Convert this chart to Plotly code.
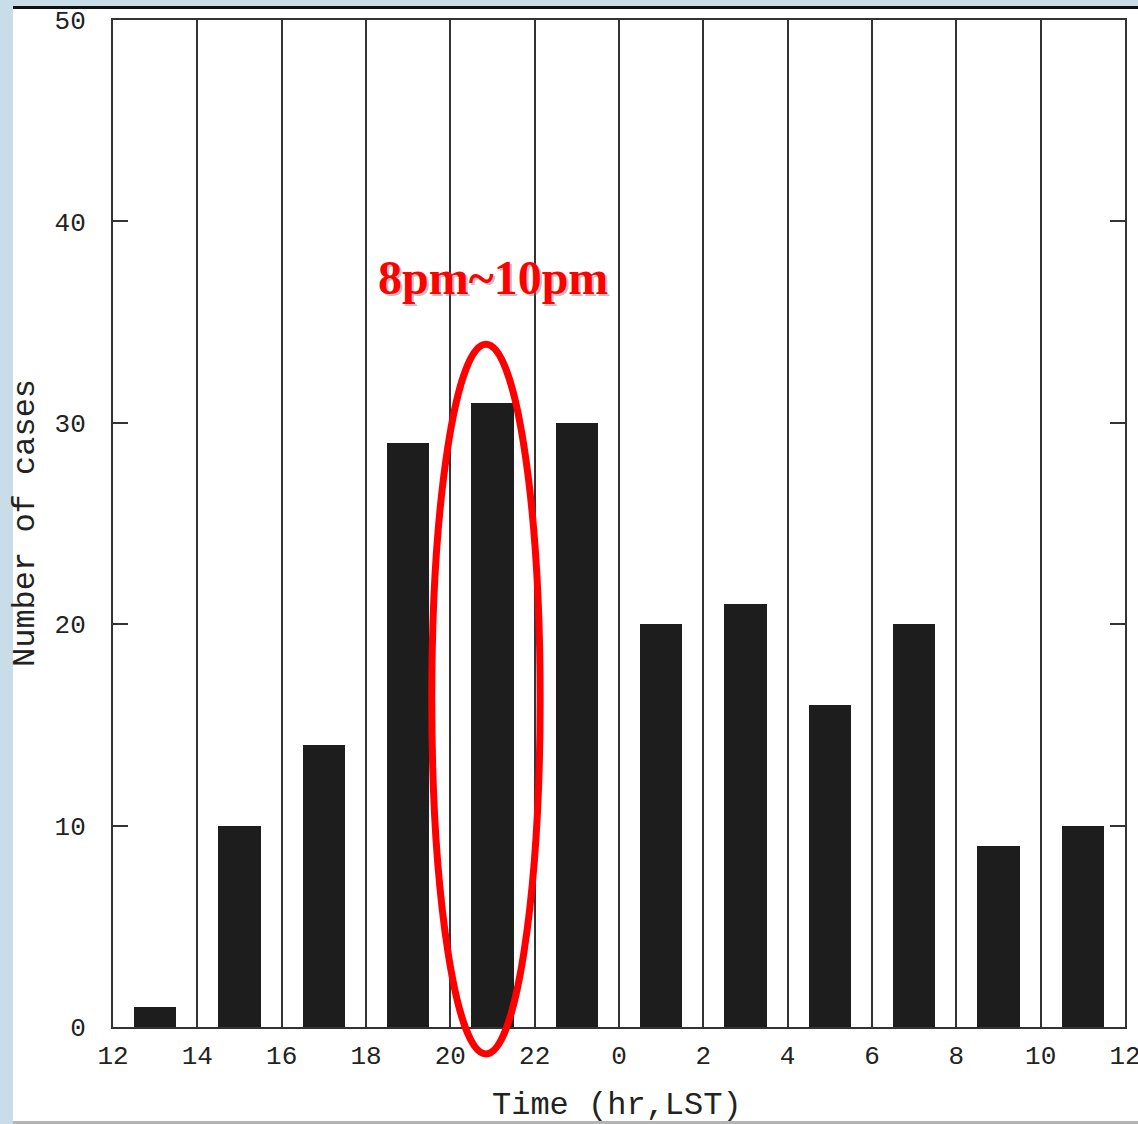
import plotly.graph_objects as go

# ---- data ----
bin_start_hours = [12, 14, 16, 18, 20, 22, 24, 26, 28, 30, 32, 34]   # continuous hour scale (LST)
counts = [1, 10, 14, 29, 31, 30, 20, 21, 16, 20, 9, 10]
tick_vals = [12, 14, 16, 18, 20, 22, 24, 26, 28, 30, 32, 34, 36]
tick_text = ["12", "14", "16", "18", "20", "22", "0", "2", "4", "6", "8", "10", "12"]
y_ticks = [0, 10, 20, 30, 40, 50]
x_title = "Time (hr,LST)"
y_title = "Number of cases"
highlight_label = "8pm~10pm"
highlight_center = 21
ellipse_x = [19.56, 22.13]
ellipse_y = [-1.34, 33.9]

W, H = 1138, 1124
ML, MR, MT, MB = 113, 13, 20, 97
PW = W - ML - MR
PH = H - MT - MB
Y_MAX = 50

def px_to_paper_x(px):
    return (px - ML) / PW

def py_to_paper_y(py):
    return (H - MB - py) / PH

def val_to_paper_y(v):
    return v / Y_MAX

centers = [b + 1 for b in bin_start_hours]

fig = go.Figure()
fig.add_trace(go.Bar(
    x=centers, y=counts, width=1.0,
    marker=dict(color="#1d1d1d", line=dict(width=0)),
    showlegend=False, hoverinfo="x+y",
))

tick_font = dict(family="Liberation Mono", size=26, color="#222222")
title_font = dict(family="Liberation Mono", size=32, color="#222222")

fig.update_layout(
    width=W, height=H,
    margin=dict(l=ML, r=MR, t=MT, b=MB, autoexpand=False),
    paper_bgcolor="white", plot_bgcolor="white",
    bargap=0,
    xaxis=dict(
        range=[12, 36], tickmode="array", tickvals=tick_vals, ticktext=tick_text,
        showgrid=True, gridcolor="#333333", gridwidth=2,
        showline=True, linecolor="#333333", linewidth=2, mirror=True,
        ticks="", tickfont=tick_font, ticklabelstandoff=4,
        ticklabeloverflow="allow", automargin=False,
        zeroline=False,
    ),
    yaxis=dict(
        range=[0, Y_MAX], tickmode="array", tickvals=y_ticks,
        showgrid=False, zeroline=False,
        showline=True, linecolor="#333333", linewidth=2, mirror="ticks",
        ticks="inside", ticklen=15, tickwidth=2, tickcolor="#333333",
        tickfont=tick_font, ticklabelstandoff=20,
        ticklabeloverflow="allow", automargin=False,
    ),
)

shapes = []
# light-blue page border (left and top) and frame lines of the slide
shapes.append(dict(type="rect", xref="paper", yref="paper",
                   x0=px_to_paper_x(0), x1=px_to_paper_x(13),
                   y0=py_to_paper_y(H), y1=py_to_paper_y(0),
                   fillcolor="#c9dde8", line=dict(width=0), layer="above"))
shapes.append(dict(type="rect", xref="paper", yref="paper",
                   x0=px_to_paper_x(13), x1=px_to_paper_x(W),
                   y0=py_to_paper_y(6), y1=py_to_paper_y(0),
                   fillcolor="#c9dde8", line=dict(width=0), layer="above"))
shapes.append(dict(type="rect", xref="paper", yref="paper",
                   x0=px_to_paper_x(13), x1=px_to_paper_x(W),
                   y0=py_to_paper_y(9), y1=py_to_paper_y(6),
                   fillcolor="#111111", line=dict(width=0), layer="above"))
shapes.append(dict(type="rect", xref="paper", yref="paper",
                   x0=px_to_paper_x(13), x1=px_to_paper_x(W),
                   y0=py_to_paper_y(1124), y1=py_to_paper_y(1121),
                   fillcolor="#b4b4b4", line=dict(width=0), layer="above"))
# red highlight ellipse
shapes.append(dict(type="circle", xref="x", yref="paper",
                   x0=ellipse_x[0], x1=ellipse_x[1],
                   y0=val_to_paper_y(ellipse_y[0]), y1=val_to_paper_y(ellipse_y[1]),
                   line=dict(color="#ff0000", width=7), fillcolor="rgba(0,0,0,0)",
                   layer="above"))
fig.update_layout(shapes=shapes)

# axis titles
fig.add_annotation(x=px_to_paper_x(617), y=py_to_paper_y(1105), xref="paper", yref="paper",
                   text=x_title, showarrow=False, font=title_font,
                   xanchor="center", yanchor="middle")
fig.add_annotation(x=px_to_paper_x(25), y=py_to_paper_y(523), xref="paper", yref="paper",
                   text=y_title, showarrow=False, font=title_font, textangle=-90,
                   xanchor="center", yanchor="middle")

# highlight label with soft shadow
fig.add_annotation(x=highlight_center, y=37.2, xref="x", yref="y",
                   text="<b>" + highlight_label + "</b>", showarrow=False,
                   font=dict(family="Liberation Serif", size=48, color="rgba(120,120,120,0.45)"),
                   xshift=2, yshift=-2)
fig.add_annotation(x=highlight_center, y=37.2, xref="x", yref="y",
                   text="<b>" + highlight_label + "</b>", showarrow=False,
                   font=dict(family="Liberation Serif", size=48, color="#ff0000"))

fig.write_html("out.html")
